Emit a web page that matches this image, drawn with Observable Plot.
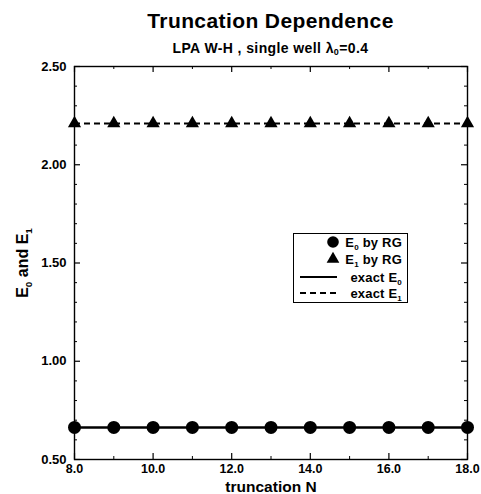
<!DOCTYPE html>
<html>
<head>
<meta charset="utf-8">
<script src="https://cdn.jsdelivr.net/npm/d3@7"></script>
<script src="https://cdn.jsdelivr.net/npm/@observablehq/plot@0.6"></script>
<style>
  html, body { margin: 0; padding: 0; background: #fff; }
  #wrap { position: relative; width: 481px; height: 494px; font-family: "Liberation Sans", Arial, Helvetica, sans-serif; font-weight: bold; color: #000; }
  #head { position: relative; height: 60px; }
  .title { position: absolute; left: 74px; width: 393px; text-align: center; white-space: nowrap; }
  #t1 { top: 10px; font-size: 21px; line-height: 21px; letter-spacing: 0.4px; }
  #t2 { top: 41px; font-size: 14px; line-height: 14px; letter-spacing: 0.4px; }
  #t2 sub { font-size: 9px; vertical-align: -2px; line-height: 0; }
  #legend { position: absolute; left: 293px; top: 233px; }
  svg { display: block; }
</style>
</head>
<body>
<div id="wrap">
  <div id="head">
    <div class="title" id="t1">Truncation Dependence</div>
    <div class="title" id="t2">LPA W-H , single well λ<sub>0</sub>=0.4</div>
  </div>
  <div id="chart"></div>
  <div id="legend"></div>
</div>
<script>
// Truncation order N and the two lowest levels computed by the RG scheme
const truncN = [8, 9, 10, 11, 12, 13, 14, 15, 16, 17, 18];
const e0RG = [0.663, 0.663, 0.663, 0.663, 0.663, 0.663, 0.663, 0.663, 0.663, 0.663, 0.663];
const e1RG = [2.21, 2.21, 2.21, 2.21, 2.21, 2.21, 2.21, 2.21, 2.21, 2.21, 2.21];
// exact eigenvalues (horizontal reference lines)
const exactE0 = [0.663];
const exactE1 = [2.21];

// axis ticks
const xMajor = [8, 10, 12, 14, 16, 18];
const xMinor = [9, 11, 13, 15, 17];
const yMajor = [0.5, 1.0, 1.5, 2.0, 2.5];
const yMinor = [0.6, 0.7, 0.8, 0.9, 1.1, 1.2, 1.3, 1.4, 1.6, 1.7, 1.8, 1.9, 2.1, 2.2, 2.3, 2.4];

// legend entries
const legendItems = [
  {kind: "circle", text: "E_0 by RG"},
  {kind: "triangle", text: "E_1 by RG"},
  {kind: "solid", text: "exact E_0"},
  {kind: "dashed", text: "exact E_1"}
];

const rows = truncN.map((n, i) => ({n, e0: e0RG[i], e1: e1RG[i]}));

const W = 481, H = 434;
const mL = 74, mR = 14, mT = 6, mB = 35;
const innerW = W - mL - mR, innerH = H - mT - mB;
const majorLen = 6, minorLen = 3;

const chart = Plot.plot({
  width: W,
  height: H,
  marginLeft: mL,
  marginRight: mR,
  marginTop: mT,
  marginBottom: mB,
  style: {fontFamily: '"Liberation Sans", Arial, Helvetica, sans-serif', fontWeight: "bold", background: "#fff", color: "#000"},
  x: {domain: [8, 18]},
  y: {domain: [0.5, 2.5]},
  marks: [
    // inward ticks on all four sides
    Plot.tickY(yMajor, {y: d => d, insetRight: innerW - majorLen, stroke: "#000", strokeWidth: 1.2}),
    Plot.tickY(yMajor, {y: d => d, insetLeft: innerW - majorLen, stroke: "#000", strokeWidth: 1.2}),
    Plot.tickY(yMinor, {y: d => d, insetRight: innerW - minorLen, stroke: "#000", strokeWidth: 1}),
    Plot.tickY(yMinor, {y: d => d, insetLeft: innerW - minorLen, stroke: "#000", strokeWidth: 1}),
    Plot.tickX(xMajor, {x: d => d, insetTop: innerH - majorLen, stroke: "#000", strokeWidth: 1.2}),
    Plot.tickX(xMajor, {x: d => d, insetBottom: innerH - majorLen, stroke: "#000", strokeWidth: 1.2}),
    Plot.tickX(xMinor, {x: d => d, insetTop: innerH - minorLen, stroke: "#000", strokeWidth: 1}),
    Plot.tickX(xMinor, {x: d => d, insetBottom: innerH - minorLen, stroke: "#000", strokeWidth: 1}),
    Plot.axisX({ticks: xMajor, tickSize: 0, tickPadding: 5, tickFormat: d => d.toFixed(1), fontSize: 12.5, label: null}),
    Plot.axisY({ticks: yMajor, tickSize: 0, tickPadding: 8, tickFormat: d => d.toFixed(2), fontSize: 13, label: null}),
    Plot.text(["truncation N"], {frameAnchor: "bottom", textAnchor: "middle", dy: 28, lineAnchor: "middle", fontSize: 15.5, fontWeight: "bold", fill: "#000", letterSpacing: 0.3}),
    Plot.text(["E_0 and E_1"], {frameAnchor: "left", textAnchor: "middle", dx: -52, rotate: -90, lineAnchor: "middle", fontSize: 16, fontWeight: "bold", fill: "#000"}),
    // exact levels
    Plot.ruleY(exactE0, {stroke: "#000", strokeWidth: 2.4}),
    Plot.ruleY(exactE1, {stroke: "#000", strokeWidth: 2, strokeDasharray: "6,4"}),
    // RG results
    Plot.dot(rows, {x: "n", y: "e0", r: 6.5, fill: "#000", stroke: "none", symbol: "circle"}),
    Plot.dot(rows, {x: "n", y: "e1", r: 4.9, fill: "#000", stroke: "none", symbol: "triangle"}),
    Plot.frame({stroke: "#000", strokeWidth: 1.4})
  ]
});
document.getElementById("chart").appendChild(chart);

// turn "X_d" into a proper subscript inside SVG text
function subscriptify(textEl, size) {
  const sel = d3.select(textEl);
  const raw = sel.text();
  if (!raw.includes("_")) return;
  sel.text(null);
  const parts = raw.split(/_(\d)/);
  const shift = size * 0.3;
  let pending = 0;
  parts.forEach((p, i) => {
    if (p === "") return;
    if (i % 2 === 1) {
      sel.append("tspan").attr("dy", shift).attr("font-size", size * 0.62).text(p);
      pending = -shift;
    } else {
      const ts = sel.append("tspan").text(p);
      if (pending) ts.attr("dy", pending);
      pending = 0;
    }
  });
}
d3.select(chart).selectAll("text").each(function () {
  if (d3.select(this).text().includes("_")) subscriptify(this, 16);
});

// legend box inside the plot area
const lg = d3.select("#legend").append("svg").attr("width", 115).attr("height", 70);
lg.append("rect").attr("x", 0.5).attr("y", 0.5).attr("width", 114).attr("height", 69)
  .attr("fill", "#fff").attr("stroke", "#000").attr("stroke-width", 1);
const rowY = [9, 26, 44, 60];
legendItems.forEach((item, i) => {
  const y = rowY[i];
  if (item.kind === "circle") {
    lg.append("circle").attr("cx", 40).attr("cy", y).attr("r", 5.8).attr("fill", "#000");
  } else if (item.kind === "triangle") {
    lg.append("path").attr("transform", `translate(40,${y})`)
      .attr("d", d3.symbol(d3.symbolTriangle, 70)()).attr("fill", "#000");
  } else {
    lg.append("line").attr("x1", 7).attr("x2", 44).attr("y1", y).attr("y2", y)
      .attr("stroke", "#000").attr("stroke-width", 2)
      .attr("stroke-dasharray", item.kind === "dashed" ? "6,4" : null);
  }
  const t = lg.append("text").attr("x", 109).attr("y", y).attr("dy", "0.35em")
    .attr("text-anchor", "end").attr("font-size", 13).attr("font-weight", "bold")
    .attr("letter-spacing", 0.2)
    .attr("font-family", '"Liberation Sans", Arial, sans-serif').text(item.text);
  subscriptify(t.node(), 13);
});
</script>
</body>
</html>
